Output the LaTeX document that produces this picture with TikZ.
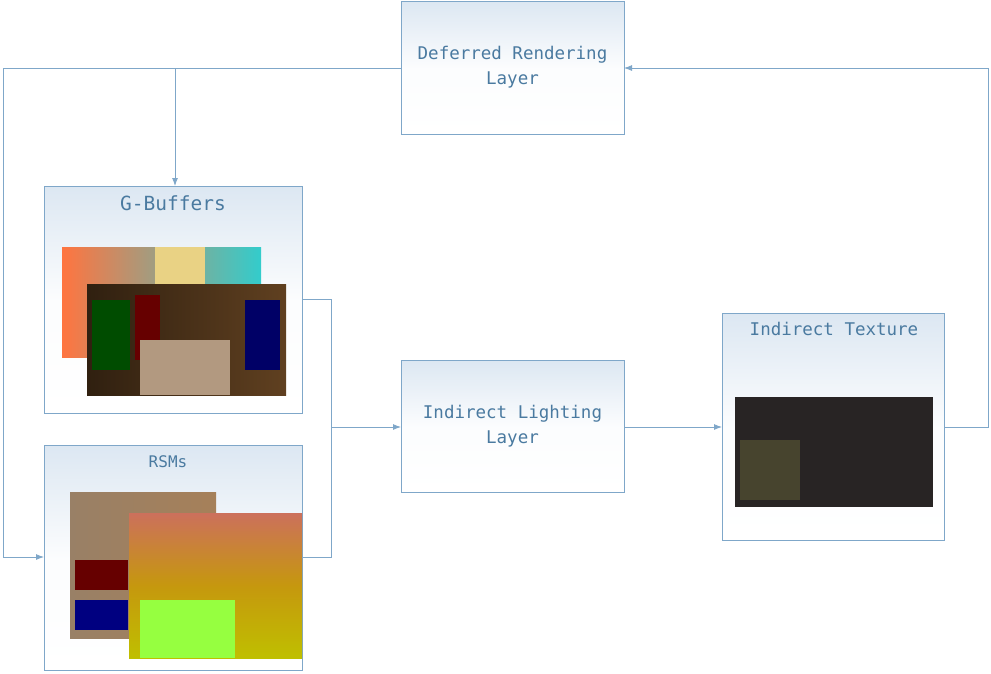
\documentclass[tikz,border=0pt]{standalone}
\usepackage{fontspec}
\setmonofont{DejaVu Sans Mono}
\usetikzlibrary{arrows.meta}
\definecolor{edge}{HTML}{7FA7C9}
\definecolor{txt}{HTML}{4A7AA0}
\definecolor{btop}{HTML}{DCE7F2}
\begin{document}
\begin{tikzpicture}[x=1pt,y=-1pt,
  box/.style={draw=edge,line width=0.9pt,top color=btop,bottom color=white,middle color=white!90!btop,inner sep=0},
  lbl/.style={text=txt,font=\ttfamily\fontsize{17.5}{25}\selectfont,align=center},
  conn/.style={draw=edge,line width=0.9pt},
  arr/.style={conn,-{Latex[length=8pt,width=6pt]}}]
\useasboundingbox (0,0) rectangle (991,673);
\path[fill=white] (0,0) rectangle (991,673);
% boxes
\path[box] (401,1) rectangle (624,134); \node[lbl] (drl) at (512.5,67.5) {Deferred Rendering\\Layer};
\coordinate (drlW) at (401,68); \coordinate (drlE) at (624,68);
\path[box] (44,186) rectangle (302,413); \node[lbl,font=\ttfamily\fontsize{19.5}{22}\selectfont] (gb) at (173,203) {G-Buffers};
\coordinate (gbN) at (175,186); \coordinate (gbE) at (302,299);
\path[box] (44,445) rectangle (302,670); \node[lbl,font=\ttfamily\fontsize{16}{19}\selectfont] (rsm) at (168,462) {RSMs};
\coordinate (rsmW) at (44,557); \coordinate (rsmE) at (302,557);
\path[box] (401,360) rectangle (624,492); \node[lbl] (ill) at (512.5,426) {Indirect Lighting\\Layer};
\coordinate (illW) at (401,427); \coordinate (illE) at (624,427);
\path[box] (722,313) rectangle (944,540); \node[lbl] (it) at (834,329) {Indirect Texture};
\coordinate (itW) at (722,427); \coordinate (itE) at (944,427);
% images G-buffers
\fill[left color=red!45!orange!75,right color=cyan!50!teal!80] (62,247) rectangle (261,357);
\fill[yellow!40!brown!60] (155,247) rectangle (205,285);
\fill[left color=black!75!brown,right color=brown!50!black] (87,284) rectangle (286,395);
\fill[green!30!black] (92,300) rectangle (130,370);
\fill[red!40!black] (135,295) rectangle (160,360);
\fill[gray!50!brown!80] (140,340) rectangle (230,395);
\fill[blue!40!black] (245,300) rectangle (280,370);
% RSMs
\fill[left color=gray!60!brown,right color=gray!40!brown] (70,492) rectangle (216,638);
\fill[red!40!black] (75,560) rectangle (128,590);
\fill[blue!50!black] (75,600) rectangle (128,630);
\fill[top color=magenta!45!yellow!80!black,bottom color=yellow!50!olive] (129,513) rectangle (302,658);
\fill[green!55!yellow!75] (140,600) rectangle (235,658);
% indirect texture
\fill[black!95!olive] (735,397) rectangle (933,507);
\fill[olive!35!black] (740,440) rectangle (800,500);
% connectors
\draw[conn] (drlW) -- (3,68) -- (3,557);
\draw[arr] (3,557) -- (rsmW);
\draw[arr] (175,68) -- (gbN);
\draw[conn] (gbE) -- (331,299) -- (331,557) -- (rsmE);
\draw[arr] (331,427) -- (illW);
\draw[arr] (illE) -- (itW);
\draw[arr] (itE) -- (988,427) -- (988,68) -- (drlE);
\end{tikzpicture}
\end{document}
